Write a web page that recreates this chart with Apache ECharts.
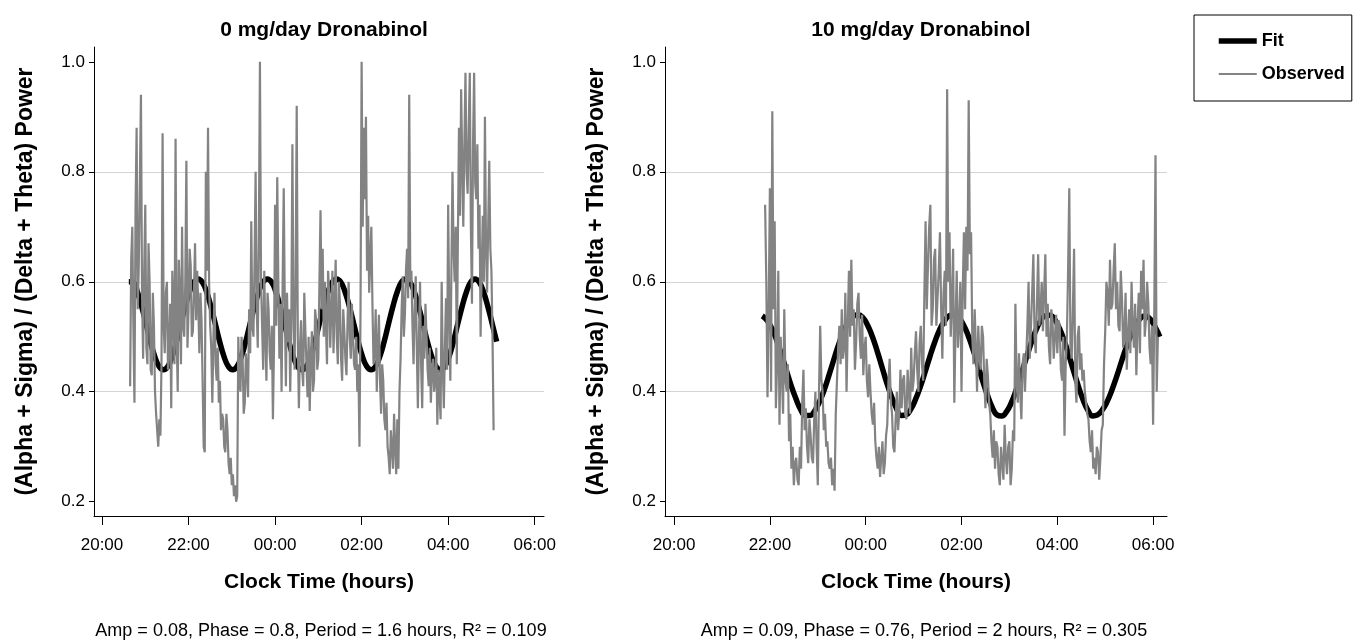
<!DOCTYPE html>
<html>
<head>
<meta charset="utf-8">
<title>Dronabinol EEG power</title>
<script src="https://cdn.jsdelivr.net/npm/echarts@6.0.0/dist/echarts.min.js"></script>
<style>
  html, body { margin: 0; padding: 0; background: #fff; }
  #chart { width: 1354px; height: 643px; }
</style>
</head>
<body>
<div id="chart"></div>
<script>
// x values are hours after 20:00
const tickHours = [0, 2, 4, 6, 8, 10]
const tickLabels = ['20:00', '22:00', '00:00', '02:00', '04:00', '06:00']
const yTicks = [0.2, 0.4, 0.6, 0.8, 1.0]
const panelTitles = ['0 mg/day Dronabinol', '10 mg/day Dronabinol']
const fitStats = [
  'Amp = 0.08, Phase = 0.8, Period = 1.6 hours, R² = 0.109',
  'Amp = 0.09, Phase = 0.76, Period = 2 hours, R² = 0.305',
]

// observed samples, one every 0.025 h (10 per row = 0.25 h)
const obsStep = 0.025
const obs0Start = 0.65
const obs0 = [
  0.41, 0.64, 0.70, 0.52, 0.38, 0.73, 0.88, 0.55, 0.63, 0.78,
  0.94, 0.58, 0.46, 0.62, 0.74, 0.48, 0.45, 0.67, 0.60, 0.44,
  0.43, 0.58, 0.52, 0.40, 0.36, 0.33, 0.30, 0.35, 0.32, 0.45,
  0.87, 0.52, 0.47, 0.58, 0.60, 0.44, 0.48, 0.56, 0.37, 0.62,
  0.55, 0.45, 0.86, 0.50, 0.40, 0.64, 0.58, 0.45, 0.70, 0.52,
  0.50, 0.60, 0.82, 0.48, 0.55, 0.66, 0.63, 0.50, 0.51, 0.58,
  0.67, 0.53, 0.62, 0.56, 0.47, 0.58, 0.53, 0.42, 0.30, 0.29,
  0.80, 0.62, 0.88, 0.60, 0.52, 0.48, 0.38, 0.50, 0.58, 0.45,
  0.42, 0.48, 0.38, 0.42, 0.33, 0.36, 0.35, 0.30, 0.29, 0.36,
  0.33, 0.27, 0.25, 0.28, 0.23, 0.25, 0.21, 0.23, 0.20, 0.21,
  0.50, 0.42, 0.40, 0.50, 0.46, 0.36, 0.38, 0.47, 0.44, 0.39,
  0.55, 0.47, 0.71, 0.52, 0.50, 0.63, 0.80, 0.55, 0.48, 0.68,
  1.00, 0.60, 0.52, 0.44, 0.62, 0.50, 0.42, 0.58, 0.55, 0.47,
  0.44, 0.52, 0.35, 0.48, 0.74, 0.52, 0.79, 0.60, 0.46, 0.56,
  0.40, 0.60, 0.77, 0.55, 0.41, 0.58, 0.49, 0.55, 0.40, 0.52,
  0.85, 0.55, 0.44, 0.60, 0.92, 0.50, 0.37, 0.48, 0.53, 0.44,
  0.41, 0.58, 0.51, 0.45, 0.39, 0.50, 0.365, 0.46, 0.51, 0.40,
  0.42, 0.55, 0.53, 0.44, 0.46, 0.60, 0.73, 0.55, 0.66, 0.50,
  0.60, 0.52, 0.45, 0.62, 0.58, 0.48, 0.55, 0.62, 0.47, 0.55,
  0.64, 0.50, 0.45, 0.60, 0.56, 0.46, 0.42, 0.55, 0.51, 0.46,
  0.43, 0.53, 0.60, 0.50, 0.46, 0.56, 0.50, 0.45, 0.44, 0.50,
  0.40, 0.45, 0.30, 0.55, 1.00, 0.70, 0.88, 0.75, 0.90, 0.62,
  0.72, 0.58, 0.64, 0.70, 0.56, 0.45, 0.47, 0.55, 0.40, 0.48,
  0.54, 0.42, 0.36, 0.45, 0.42, 0.35, 0.33, 0.38, 0.30, 0.28,
  0.25, 0.33, 0.30, 0.26, 0.36, 0.30, 0.25, 0.35, 0.26, 0.40,
  0.46, 0.55, 0.61, 0.50, 0.54, 0.62, 0.66, 0.57, 0.94, 0.60,
  0.62, 0.52, 0.45, 0.55, 0.61, 0.48, 0.37, 0.50, 0.60, 0.45,
  0.37, 0.52, 0.46, 0.56, 0.50, 0.44, 0.41, 0.48, 0.38, 0.44,
  0.46, 0.40, 0.42, 0.48, 0.34, 0.44, 0.40, 0.35, 0.60, 0.45,
  0.37, 0.48, 0.57, 0.44, 0.74, 0.55, 0.42, 0.62, 0.80, 0.66,
  0.60, 0.70, 0.45, 0.68, 0.88, 0.72, 0.95, 0.82, 0.70, 0.85,
  0.98, 0.80, 0.76, 0.88, 0.98, 0.70, 0.56, 0.85, 0.98, 0.78,
  0.75, 0.85, 0.66, 0.74, 0.50, 0.62, 0.72, 0.60, 0.90, 0.66,
  0.58, 0.70, 0.82, 0.66, 0.62, 0.50, 0.33,
]
const obs10Start = 1.90
const obs10 = [
  0.74, 0.60, 0.39, 0.55, 0.77, 0.40, 0.91, 0.55, 0.71, 0.37,
  0.45, 0.62, 0.34, 0.50, 0.43, 0.36, 0.55, 0.42, 0.40, 0.45,
  0.31, 0.36, 0.26, 0.30, 0.23, 0.27, 0.28, 0.24, 0.23, 0.30,
  0.26, 0.38, 0.44, 0.33, 0.37, 0.30, 0.27, 0.35, 0.32, 0.28,
  0.27, 0.35, 0.40, 0.30, 0.23, 0.40, 0.52, 0.42, 0.40, 0.33,
  0.36, 0.30, 0.31, 0.27, 0.26, 0.28, 0.23, 0.26, 0.22, 0.36,
  0.42, 0.48, 0.52, 0.45, 0.55, 0.46, 0.48, 0.58, 0.40, 0.52,
  0.62, 0.50, 0.64, 0.52, 0.55, 0.44, 0.49, 0.56, 0.58, 0.50,
  0.46, 0.54, 0.43, 0.48, 0.50, 0.42, 0.39, 0.45, 0.40, 0.36,
  0.34, 0.38, 0.31, 0.28, 0.26, 0.30, 0.245, 0.28, 0.31, 0.25,
  0.27, 0.32, 0.34, 0.42, 0.46, 0.38, 0.36, 0.30, 0.29, 0.35,
  0.40, 0.33, 0.36, 0.44, 0.37, 0.42, 0.43, 0.36, 0.35, 0.44,
  0.40, 0.36, 0.48, 0.40, 0.42, 0.47, 0.51, 0.44, 0.40, 0.49,
  0.52, 0.45, 0.42, 0.58, 0.71, 0.55, 0.63, 0.70, 0.74, 0.52,
  0.55, 0.64, 0.66, 0.52, 0.57, 0.62, 0.69, 0.55, 0.46, 0.58,
  0.62, 0.52, 0.95, 0.60, 0.69, 0.50, 0.56, 0.66, 0.38, 0.52,
  0.62, 0.48, 0.52, 0.60, 0.40, 0.58, 0.69, 0.55, 0.70, 0.62,
  0.93, 0.65, 0.69, 0.50, 0.45, 0.55, 0.48, 0.40, 0.52, 0.46,
  0.44, 0.52, 0.50, 0.42, 0.37, 0.46, 0.43, 0.38, 0.36, 0.31,
  0.28, 0.33, 0.26, 0.31, 0.30, 0.25, 0.23, 0.30, 0.27, 0.24,
  0.34, 0.28, 0.25, 0.30, 0.31, 0.23, 0.26, 0.33, 0.31, 0.56,
  0.42, 0.38, 0.47, 0.40, 0.35, 0.45, 0.47, 0.40, 0.40, 0.52,
  0.60, 0.46, 0.52, 0.58, 0.65, 0.50, 0.47, 0.56, 0.65, 0.52,
  0.55, 0.60, 0.51, 0.58, 0.65, 0.50, 0.56, 0.48, 0.45, 0.55,
  0.53, 0.46, 0.50, 0.54, 0.47, 0.53, 0.52, 0.44, 0.42, 0.50,
  0.32, 0.45, 0.50, 0.62, 0.77, 0.48, 0.46, 0.55, 0.66, 0.42,
  0.38, 0.50, 0.52, 0.44, 0.47, 0.42, 0.44, 0.40, 0.38, 0.36,
  0.35, 0.31, 0.29, 0.33, 0.26, 0.28, 0.25, 0.30, 0.29, 0.24,
  0.28, 0.33, 0.34, 0.45, 0.51, 0.60, 0.58, 0.52, 0.64, 0.55,
  0.56, 0.62, 0.67, 0.55, 0.60, 0.52, 0.51, 0.62, 0.57, 0.48,
  0.50, 0.58, 0.44, 0.50, 0.55, 0.47, 0.60, 0.52, 0.48, 0.56,
  0.43, 0.52, 0.58, 0.47, 0.62, 0.55, 0.64, 0.50, 0.53, 0.60,
  0.56, 0.48, 0.45, 0.52, 0.34, 0.55, 0.83, 0.40, 0.50,
]

// fitted curve read every 0.1 h
const fitStep = 0.1
const fit0Start = 0.62
const fit0 = [
  0.600, 0.599, 0.581, 0.554, 0.523, 0.491, 0.464, 0.446, 0.440,
  0.446, 0.464, 0.491, 0.523, 0.554, 0.581, 0.599, 0.605,
  0.599, 0.581, 0.554, 0.523, 0.491, 0.464, 0.446, 0.440,
  0.446, 0.464, 0.491, 0.523, 0.554, 0.581, 0.599, 0.605,
  0.599, 0.581, 0.554, 0.523, 0.491, 0.464, 0.446, 0.440,
  0.446, 0.464, 0.491, 0.523, 0.554, 0.581, 0.599, 0.605,
  0.599, 0.581, 0.554, 0.523, 0.491, 0.464, 0.446, 0.440,
  0.446, 0.464, 0.491, 0.523, 0.554, 0.581, 0.599, 0.605,
  0.599, 0.581, 0.554, 0.523, 0.491, 0.464, 0.446, 0.440,
  0.446, 0.464, 0.491, 0.523, 0.554, 0.581, 0.599, 0.605,
  0.599, 0.581, 0.554, 0.523, 0.491,
]
const fit10Start = 1.84
const fit10 = [
  0.538, 0.530, 0.515, 0.494, 0.468, 0.440, 0.412, 0.388, 0.368, 0.357,
  0.357, 0.366, 0.383, 0.405, 0.432, 0.460, 0.487, 0.510, 0.527, 0.537,
  0.540, 0.535, 0.521, 0.500, 0.474, 0.445, 0.416, 0.391, 0.370, 0.357,
  0.358, 0.368, 0.386, 0.409, 0.436, 0.464, 0.490, 0.512, 0.528, 0.538,
  0.540, 0.535, 0.522, 0.502, 0.477, 0.449, 0.420, 0.394, 0.372, 0.358,
  0.356, 0.364, 0.380, 0.403, 0.430, 0.458, 0.485, 0.509, 0.527, 0.538,
  0.539, 0.532, 0.516, 0.494, 0.467, 0.438, 0.410, 0.385, 0.366, 0.356,
  0.358, 0.367, 0.382, 0.403, 0.428, 0.455, 0.481, 0.504, 0.522, 0.534,
  0.538, 0.532, 0.518, 0.500,
]

const FONT = "'Liberation Sans', Arial, sans-serif"
const OBS_GREY = '#838383'
const chart = echarts.init(document.getElementById('chart'), null, { renderer: 'canvas' })

function toPairs(start, step, vals) {
  return vals.map((v, i) => [+(start + i * step).toFixed(3), v])
}

function makeX(idx, min, max) {
  return {
    type: 'value',
    gridIndex: idx,
    min: min,
    max: max,
    name: 'Clock Time (hours)',
    nameLocation: 'middle',
    nameGap: 56,
    nameTextStyle: { fontFamily: FONT, fontSize: 21, fontWeight: 'bold', color: '#000' },
    axisLine: { onZero: false, lineStyle: { color: '#000', width: 1 } },
    axisTick: { customValues: tickHours, length: 9, lineStyle: { color: '#000' } },
    axisLabel: {
      customValues: tickHours,
      margin: 21,
      fontFamily: FONT,
      fontSize: 17,
      color: '#000',
      formatter: (v) => tickLabels[tickHours.indexOf(Math.round(v))],
    },
    splitLine: { show: false },
  }
}

function makeY(idx) {
  return {
    type: 'value',
    gridIndex: idx,
    min: 0.174,
    max: 1.027,
    name: '(Alpha + Sigma) / (Delta + Theta) Power',
    nameLocation: 'middle',
    nameGap: 57,
    nameTextStyle: { fontFamily: FONT, fontSize: 23, fontWeight: 'bold', color: '#000' },
    axisLine: { show: true, onZero: false, lineStyle: { color: '#000', width: 1 } },
    axisTick: { show: true, customValues: yTicks, length: 5, lineStyle: { color: '#000' } },
    axisLabel: {
      customValues: yTicks,
      margin: 9,
      fontFamily: FONT,
      fontSize: 17,
      color: '#000',
      formatter: (v) => v.toFixed(1),
    },
    splitLine: { show: true, showMinLine: false, showMaxLine: false, lineStyle: { color: '#d4d4d4', width: 1 } },
  }
}

function fitSeries(idx, data) {
  return {
    name: 'Fit',
    type: 'line',
    xAxisIndex: idx,
    yAxisIndex: idx,
    data: data,
    smooth: true,
    symbol: 'none',
    lineStyle: { color: '#000', width: 5.5 },
    itemStyle: { color: '#000' },
  }
}

function obsSeries(idx, data) {
  return {
    name: 'Observed',
    type: 'line',
    xAxisIndex: idx,
    yAxisIndex: idx,
    data: data,
    symbol: 'none',
    lineStyle: { color: OBS_GREY, width: 2.2 },
    itemStyle: { color: OBS_GREY },
  }
}

chart.setOption({
  animation: false,
  backgroundColor: '#fff',
  title: [
    { text: panelTitles[0], left: 319, top: 15, textAlign: 'center',
      textStyle: { fontFamily: FONT, fontSize: 21, fontWeight: 'bold', color: '#000' } },
    { text: panelTitles[1], left: 916, top: 15, textAlign: 'center',
      textStyle: { fontFamily: FONT, fontSize: 21, fontWeight: 'bold', color: '#000' } },
    { text: fitStats[0], left: 316, top: 617, textAlign: 'center',
      textStyle: { fontFamily: FONT, fontSize: 18, fontWeight: 'normal', color: '#000' } },
    { text: fitStats[1], left: 919, top: 617, textAlign: 'center',
      textStyle: { fontFamily: FONT, fontSize: 18, fontWeight: 'normal', color: '#000' } },
  ],
  legend: {
    data: [
      { name: 'Fit', lineStyle: { width: 5.5, color: '#000' } },
      { name: 'Observed', lineStyle: { width: 2, color: OBS_GREY } },
    ],
    orient: 'vertical',
    left: 1194,
    top: 15,
    padding: [17, 7, 18, 22],
    itemWidth: 38,
    itemHeight: 14,
    itemGap: 15,
    itemStyle: { opacity: 0 },
    borderColor: '#000',
    borderWidth: 1,
    borderRadius: 0,
    textStyle: { fontFamily: FONT, fontSize: 18, fontWeight: 'bold', color: '#000' },
  },
  grid: [
    { left: 94, top: 47, width: 450, height: 469 },
    { left: 665, top: 47, width: 502, height: 469 },
  ],
  xAxis: [makeX(0, -0.185, 10.215), makeX(1, -0.19, 10.29)],
  yAxis: [makeY(0), makeY(1)],
  series: [
    fitSeries(0, toPairs(fit0Start, fitStep, fit0)),
    obsSeries(0, toPairs(obs0Start, obsStep, obs0)),
    fitSeries(1, toPairs(fit10Start, fitStep, fit10)),
    obsSeries(1, toPairs(obs10Start, obsStep, obs10)),
  ],
})

window.addEventListener('resize', () => chart.resize())
</script>
</body>
</html>
